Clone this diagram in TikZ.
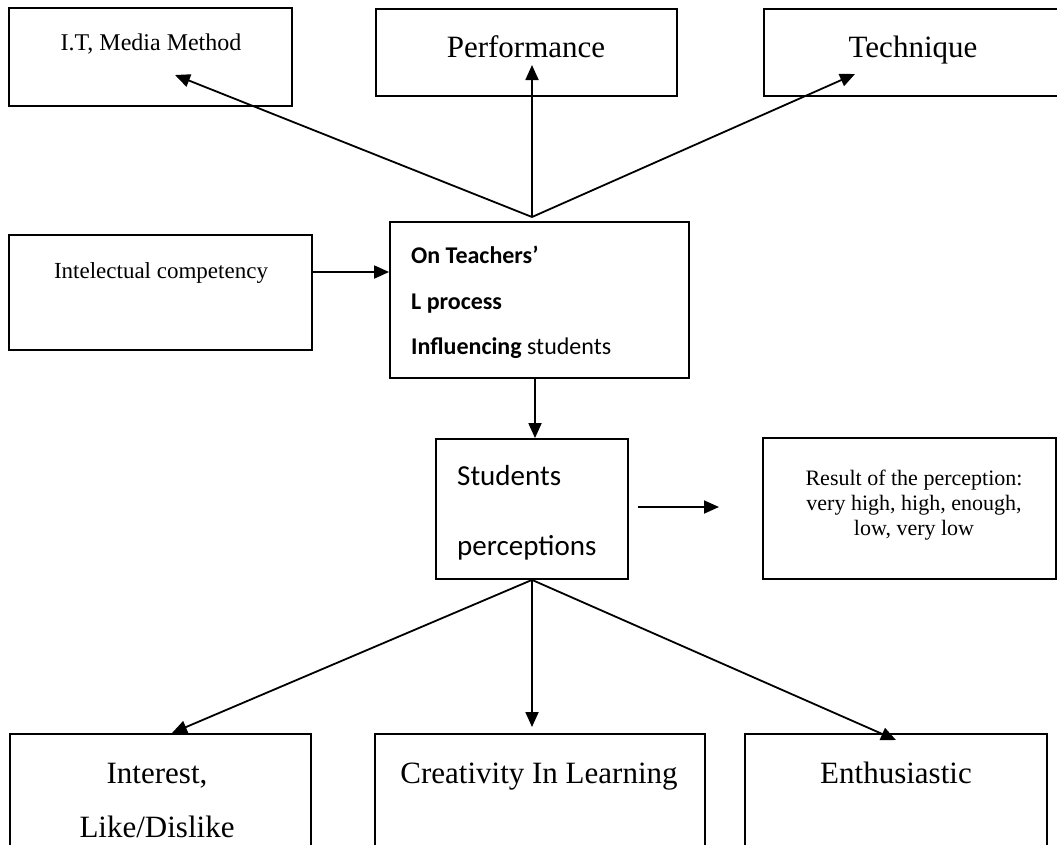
\documentclass[tikz,border=0pt]{standalone}
\usepackage{fontspec}
\setmainfont{Liberation Serif}
\newfontfamily\calibri{Carlito}
\usetikzlibrary{arrows.meta,positioning}

\begin{document}
\begin{tikzpicture}[x=1pt,y=-1pt,
    box/.style={draw,line width=1.8pt,inner sep=0pt},
    txt/.style={inner sep=0pt,anchor=base},
    ltxt/.style={inner sep=0pt,anchor=base west,font=\calibri},
    arr/.style={line width=1.8pt,-{Triangle[length=15pt,width=13pt]}}]
    \clip (0,0) rectangle (1057,844);
    \node[box,minimum width=283pt,minimum height=98pt] (it) at (150.5,57) {};
    \node[box,minimum width=301pt,minimum height=87pt] (perf) at (526.5,52.5) {};
    \node[box,minimum width=298pt,minimum height=87pt] (tech) at (913,52.5) {};
    \node[box,minimum width=303pt,minimum height=115pt] (ic) at (160.5,292.5) {};
    \node[box,minimum width=299pt,minimum height=156pt] (ctr) at (539.5,300) {};
    \node[box,minimum width=192pt,minimum height=140pt] (stu) at (532,509) {};
    \node[box,minimum width=293pt,minimum height=141pt] (res) at (909.5,508.5) {};
    \node[box,minimum width=301pt,minimum height=160pt] (int) at (160.5,814) {};
    \node[box,minimum width=330pt,minimum height=160pt] (cre) at (540,814) {};
    \node[box,minimum width=302pt,minimum height=160pt] (ent) at (896,814) {};

    \node[txt,font=\fontsize{24}{28}\selectfont] (itT) at (151,50) {I.T, Media Method};
    \node[txt,font=\fontsize{31}{36}\selectfont] (perfT) at (526,57) {Performance};
    \node[txt,font=\fontsize{31}{36}\selectfont] (techT) at (913,57) {Technique};
    \node[txt,font=\fontsize{23}{27}\selectfont] (icT) at (161,278) {Intelectual competency};
    \node[ltxt,font=\calibri\fontsize{24}{28}\selectfont] (ctrA) at (411,263) {\textbf{On Teachers’}};
    \node[ltxt,font=\calibri\fontsize{24}{28}\selectfont] (ctrB) at (411,309) {\textbf{L process}};
    \node[ltxt,font=\calibri\fontsize{24}{28}\selectfont] (ctrC) at (411,354) {\textbf{Influencing} students};
    \node[ltxt,font=\calibri\fontsize{29}{34}\selectfont] (stuA) at (457,485) {Students};
    \node[ltxt,font=\calibri\fontsize{29}{34}\selectfont] (stuB) at (457,555) {perceptions};
    \node[txt,font=\fontsize{22}{26}\selectfont] (resA) at (914,485) {Result of the perception:};
    \node[txt,font=\fontsize{22}{26}\selectfont] (resB) at (914,510) {very high, high, enough,};
    \node[txt,font=\fontsize{22}{26}\selectfont] (resC) at (914,535) {low, very low};
    \node[txt,font=\fontsize{31}{36}\selectfont] (intA) at (157,783) {Interest,};
    \node[txt,font=\fontsize{31}{36}\selectfont] (intB) at (157,837) {Like/Dislike};
    \node[txt,font=\fontsize{31}{36}\selectfont] (creT) at (539,783) {Creativity In Learning};
    \node[txt,font=\fontsize{31}{36}\selectfont] (entT) at (896,783) {Enthusiastic};

    \coordinate (fork) at (532,217);
    \coordinate (itTip) at (175,75);
    \coordinate (perfTip) at (532,65);
    \coordinate (techTip) at (855,74);
    \coordinate (ctrOut) at (535,378);
    \coordinate (icOut) at (312,272);
    \coordinate (resFrom) at (638,507);
    \coordinate (resTo) at (719,507);
    \coordinate (intTip) at (172,733);
    \coordinate (creTip) at (532,727);
    \coordinate (entTip) at (896,740);

    \draw[arr] (fork) -- (itTip);
    \draw[arr] (fork) -- (perfTip);
    \draw[arr] (fork) -- (techTip);
    \draw[arr] (icOut) -- (icOut -| ctr.west);
    \draw[arr] (ctrOut) -- (ctrOut |- stu.north);
    \draw[arr] (resFrom) -- (resTo);
    \draw[arr] (stu.south) -- (intTip);
    \draw[arr] (stu.south) -- (creTip);
    \draw[arr] (stu.south) -- (entTip);
\end{tikzpicture}
\end{document}
